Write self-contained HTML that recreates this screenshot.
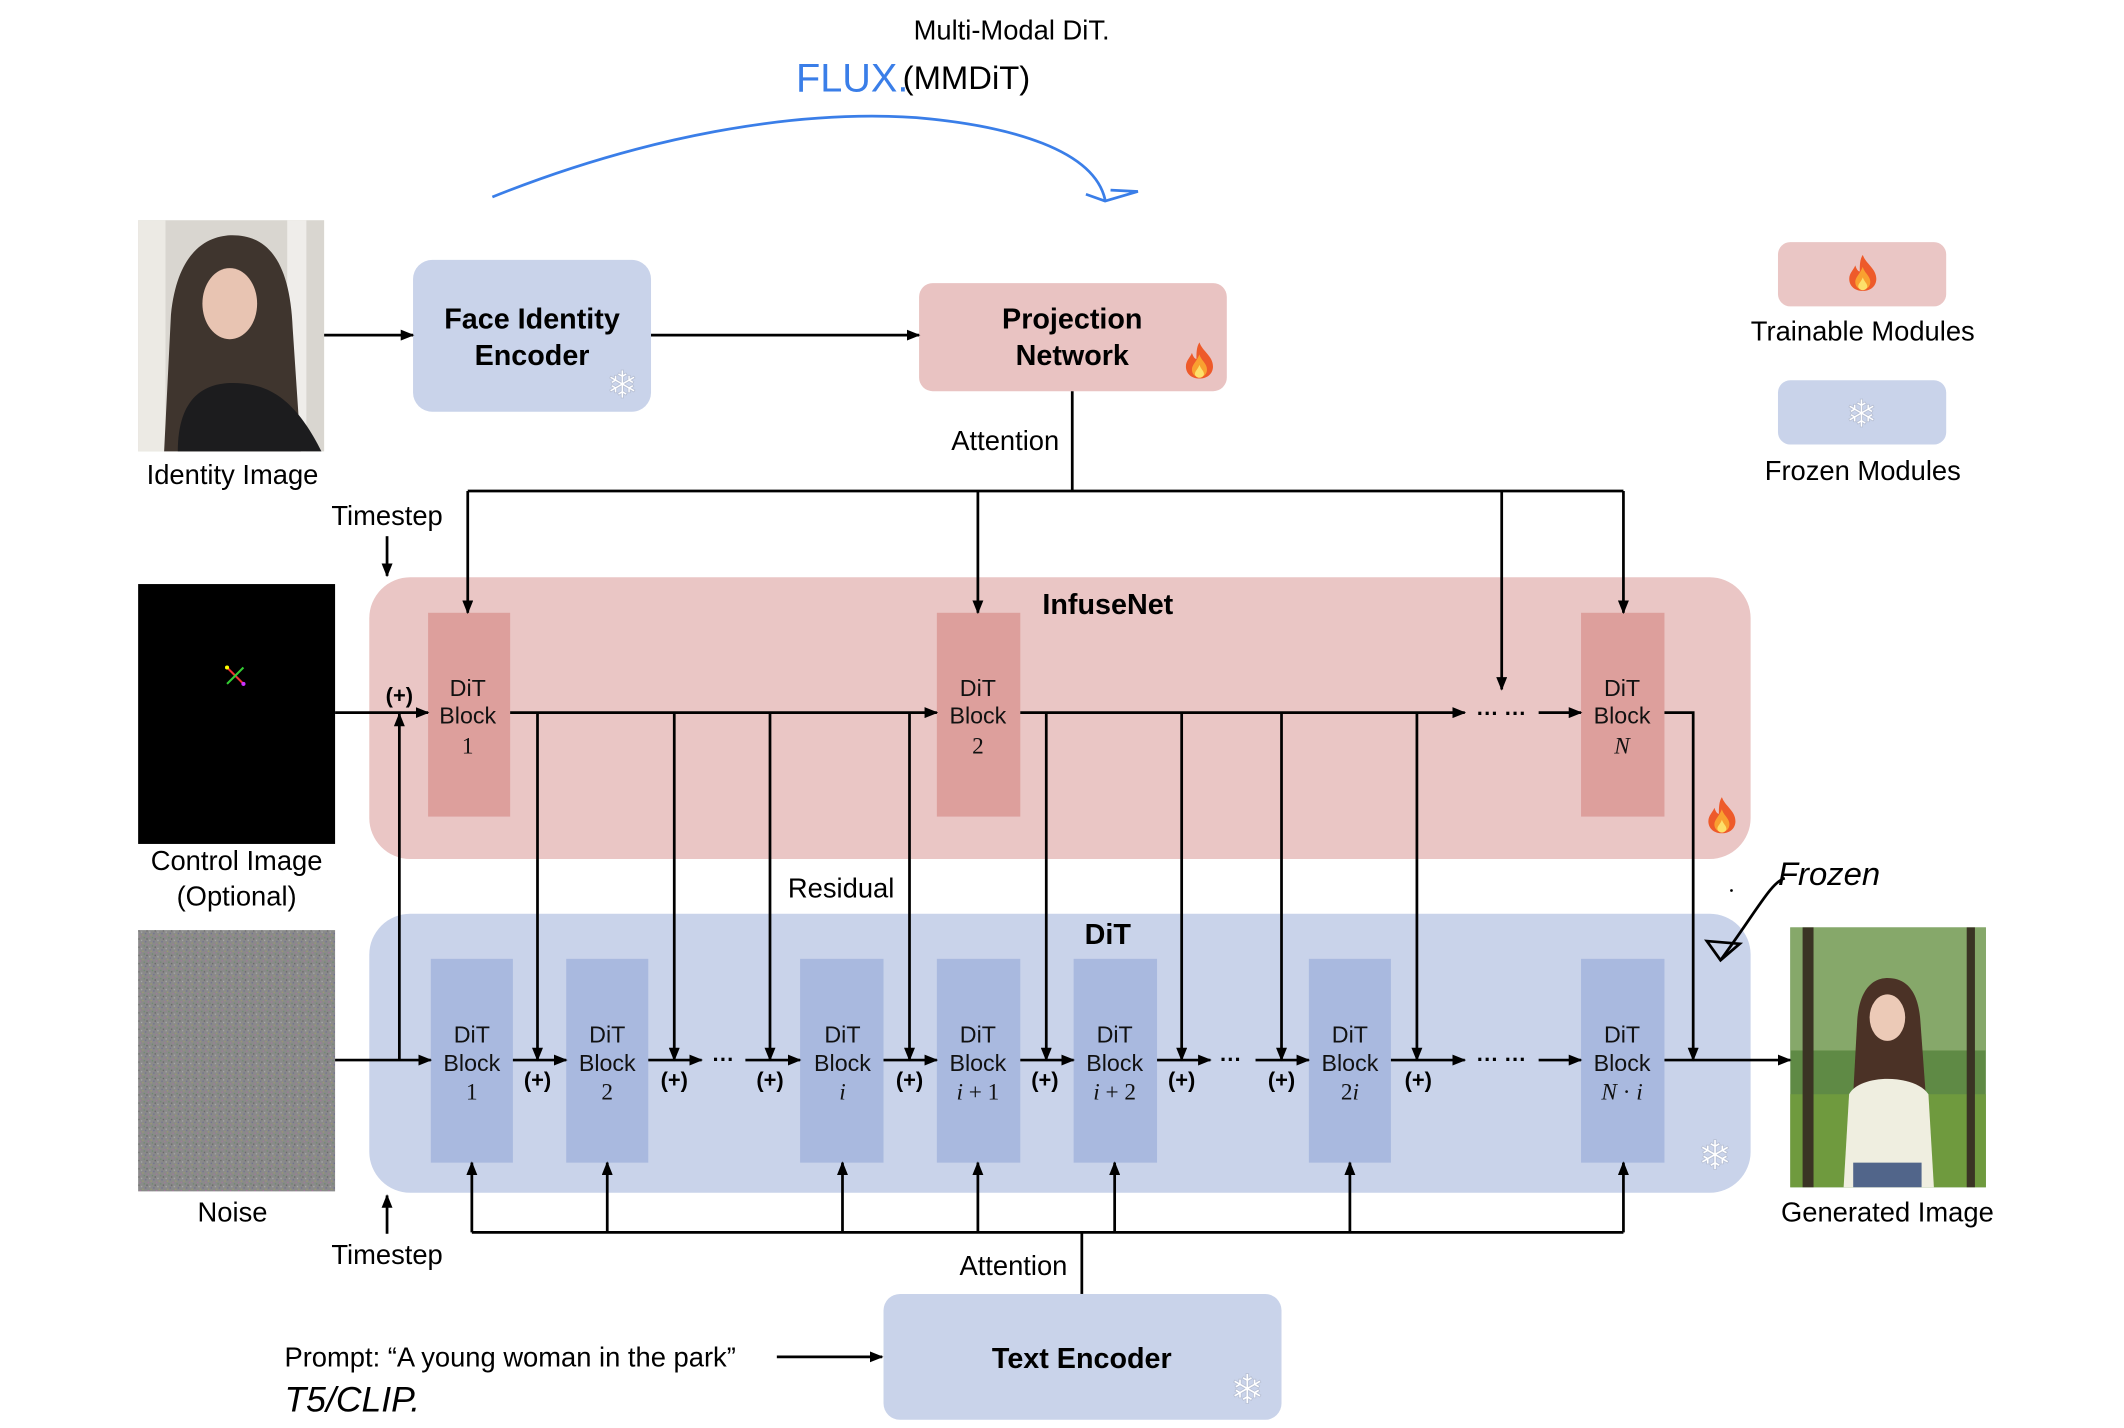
<!DOCTYPE html>
<html><head><meta charset="utf-8">
<style>
html,body{margin:0;padding:0;background:#fff;}
svg{display:block;}
text{font-family:"Liberation Sans",sans-serif;}
.l{font-size:20px;fill:#000;}
.b{font-size:21px;font-weight:bold;fill:#000;}
.blk{font-size:17px;fill:#111;}
.it{font-family:"Liberation Serif",serif;font-style:italic;font-size:17px;}
.num{font-family:"Liberation Serif",serif;font-size:17px;}
.pl{font-size:16px;font-weight:bold;}
.hw{font-family:"Liberation Sans Narrow","Liberation Sans",sans-serif;}
.snow{font-family:"DejaVu Sans",sans-serif;fill:#fff;stroke:#b8c0d4;stroke-width:0.6;}
</style></head>
<body>
<svg width="2124" height="1428" viewBox="0 0 1553 1044" preserveAspectRatio="none" xmlns="http://www.w3.org/2000/svg">
<defs>
<marker id="a" markerWidth="10" markerHeight="8" refX="9" refY="4" orient="auto" markerUnits="userSpaceOnUse">
<path d="M0,0 L10,4 L0,8 z" fill="#000"/></marker>
<symbol id="fire" viewBox="0 0 20 24">
<path d="M10,0 C12,6 19,9 19,16 C19,21 15,24 10,24 C5,24 1,21 1,16 C1,12 4,10 5,7 C6,10 7,11 8,11 C8,7 8,3 10,0z" fill="#ee5a2a"/>
<path d="M10,8 C11,12 15,14 15,18 C15,21 13,23 10,23 C7,23 5,21 5,18 C5,15 8,13 10,8z" fill="#f9a030"/>
<path d="M10,15 C11,18 13,19 13,21 C13,22.5 11.5,23.5 10,23.5 C8.5,23.5 7,22.5 7,21 C7,19 9,18 10,15z" fill="#fde06a"/>
</symbol>
<pattern id="noise" width="6" height="6" patternUnits="userSpaceOnUse">
<rect width="6" height="6" fill="#8a8a8a"/>
<rect x="0" y="0" width="1" height="1" fill="#a07a9a"/><rect x="3" y="1" width="1" height="1" fill="#6d8c6d"/>
<rect x="1" y="3" width="1" height="1" fill="#a9a9a9"/><rect x="4" y="4" width="1" height="1" fill="#707090"/>
<rect x="2" y="5" width="1" height="1" fill="#9a9a70"/><rect x="5" y="2" width="1" height="1" fill="#666"/>
</pattern>
</defs>

<!-- handwritten top -->
<text x="668" y="29" class="hw" font-size="20" fill="#000">Multi-Modal DiT.</text>
<text x="582" y="67" class="hw" font-size="29" fill="#3a7ee8">FLUX.</text>
<text x="660" y="65" class="hw" font-size="24" fill="#000">(MMDiT)</text>
<path d="M360,144 C470,100 580,80 670,86 C740,92 800,110 808,146" fill="none" stroke="#3a7ee8" stroke-width="2"/>
<path d="M794,142 L808,147 L832,140 L812,139" fill="none" stroke="#3a7ee8" stroke-width="2"/>

<!-- identity image -->
<rect x="101" y="161" width="136" height="169" fill="#d9d6d0"/>
<rect x="101" y="161" width="20" height="169" fill="#eceae4"/>
<rect x="210" y="161" width="14" height="169" fill="#efedea"/>
<path d="M120,330 L125,230 C130,180 155,172 170,172 C195,172 212,190 214,240 L220,330z" fill="#3f352e"/>
<ellipse cx="168" cy="222" rx="20" ry="26" fill="#e8c4b2"/>
<path d="M130,330 C130,290 150,280 170,280 C195,280 215,290 235,330z" fill="#1c1c1e"/>
<text x="170" y="354" class="l" text-anchor="middle">Identity Image</text>

<!-- face identity encoder -->
<rect x="302" y="190" width="174" height="111" rx="14" fill="#c9d3ea"/>
<text x="389" y="240" class="b" text-anchor="middle">Face Identity</text>
<text x="389" y="267" class="b" text-anchor="middle">Encoder</text>
<text x="455" y="291" class="snow" font-size="28" text-anchor="middle">❄</text>

<!-- projection -->
<rect x="672" y="207" width="225" height="79" rx="10" fill="#e9c3c2"/>
<text x="784" y="240" class="b" text-anchor="middle">Projection</text>
<text x="784" y="267" class="b" text-anchor="middle">Network</text>
<use href="#fire" x="866" y="250" width="22" height="27"/>

<!-- legend -->
<rect x="1300" y="177" width="123" height="47" rx="9" fill="#eac6c5"/>
<use href="#fire" x="1351" y="186" width="22" height="27"/>
<text x="1362" y="249" class="l" text-anchor="middle">Trainable Modules</text>
<rect x="1300" y="278" width="123" height="47" rx="9" fill="#c9d3ea"/>
<text x="1361" y="312" class="snow" font-size="28" text-anchor="middle">❄</text>
<text x="1362" y="351" class="l" text-anchor="middle">Frozen Modules</text>

<text x="735" y="329" class="l" text-anchor="middle">Attention</text>
<text x="283" y="384" class="l" text-anchor="middle">Timestep</text>

<!-- InfuseNet -->
<rect x="270" y="422" width="1010" height="206" rx="30" fill="#eac6c5"/>
<text x="810" y="449" class="b" text-anchor="middle">InfuseNet</text>
<use href="#fire" x="1248" y="582" width="22" height="28"/>
<g fill="#dd9f9c">
<rect x="313" y="448" width="60" height="149"/>
<rect x="685" y="448" width="61" height="149"/>
<rect x="1156" y="448" width="61" height="149"/>
</g>
<g class="blk" text-anchor="middle">
<text x="342" y="509">DiT</text><text x="342" y="529">Block</text><text x="342" y="551" class="num">1</text>
<text x="715" y="509">DiT</text><text x="715" y="529">Block</text><text x="715" y="551" class="num">2</text>
<text x="1186" y="509">DiT</text><text x="1186" y="529">Block</text><text x="1186" y="551" class="it">N</text>
</g>

<!-- control image -->
<rect x="101" y="427" width="144" height="190" fill="#000"/>
<line x1="166" y1="488" x2="178" y2="500" stroke="#e33" stroke-width="1.5"/>
<line x1="178" y1="488" x2="166" y2="500" stroke="#3c3" stroke-width="1.5"/>
<circle cx="166" cy="488" r="1.5" fill="#ff0"/><circle cx="178" cy="500" r="1.5" fill="#c3f"/>
<text x="173" y="636" class="l" text-anchor="middle">Control Image</text>
<text x="173" y="662" class="l" text-anchor="middle">(Optional)</text>

<text x="615" y="656" class="l" text-anchor="middle">Residual</text>

<!-- DiT region -->
<rect x="270" y="668" width="1010" height="204" rx="30" fill="#c9d3ea"/>
<text x="810" y="690" class="b" text-anchor="middle">DiT</text>
<text x="1254" y="855" class="snow" font-size="30" text-anchor="middle">❄</text>
<g fill="#a9b9df">
<rect x="315" y="701" width="60" height="149"/>
<rect x="414" y="701" width="60" height="149"/>
<rect x="585" y="701" width="61" height="149"/>
<rect x="685" y="701" width="61" height="149"/>
<rect x="785" y="701" width="61" height="149"/>
<rect x="957" y="701" width="60" height="149"/>
<rect x="1156" y="701" width="61" height="149"/>
</g>
<g class="blk" text-anchor="middle">
<text x="345" y="762">DiT</text><text x="345" y="783">Block</text><text x="345" y="804" class="num">1</text>
<text x="444" y="762">DiT</text><text x="444" y="783">Block</text><text x="444" y="804" class="num">2</text>
<text x="616" y="762">DiT</text><text x="616" y="783">Block</text><text x="616" y="804" class="it">i</text>
<text x="715" y="762">DiT</text><text x="715" y="783">Block</text><text x="715" y="804" class="num"><tspan font-style="italic">i</tspan> + 1</text>
<text x="815" y="762">DiT</text><text x="815" y="783">Block</text><text x="815" y="804" class="num"><tspan font-style="italic">i</tspan> + 2</text>
<text x="987" y="762">DiT</text><text x="987" y="783">Block</text><text x="987" y="804" class="num">2<tspan font-style="italic">i</tspan></text>
<text x="1186" y="762">DiT</text><text x="1186" y="783">Block</text><text x="1186" y="804" class="num"><tspan font-style="italic">N</tspan> · <tspan font-style="italic">i</tspan></text>
</g>

<!-- noise -->
<rect x="101" y="680" width="144" height="191" fill="url(#noise)"/>
<text x="170" y="893" class="l" text-anchor="middle">Noise</text>

<!-- generated image -->
<rect x="1309" y="678" width="143" height="190" fill="#5f8a45"/>
<rect x="1309" y="678" width="143" height="90" fill="#86a86a"/>
<rect x="1309" y="800" width="143" height="68" fill="#6f9a3e"/>
<rect x="1318" y="678" width="8" height="190" fill="#3a3424"/>
<rect x="1438" y="678" width="6" height="190" fill="#3a3424"/>
<path d="M1355,800 L1358,745 C1360,720 1372,715 1380,715 C1392,715 1402,722 1404,745 L1408,800z" fill="#4b3226"/>
<ellipse cx="1380" cy="744" rx="13" ry="17" fill="#eccab7"/>
<path d="M1348,868 L1352,800 C1360,785 1400,785 1410,800 L1414,868z" fill="#efeee0"/>
<rect x="1355" y="850" width="50" height="18" fill="#51658a"/>
<text x="1380" y="893" class="l" text-anchor="middle">Generated Image</text>

<!-- frozen annotation -->
<text x="1300" y="647" class="hw" font-size="24" fill="#000" font-style="italic">Frozen</text>
<circle cx="1266" cy="651" r="1" fill="#000"/>
<path d="M1305,642 C1295,645 1285,665 1258,702" fill="none" stroke="#000" stroke-width="2"/>
<path d="M1248,688 L1258,702 L1272,690z" fill="none" stroke="#000" stroke-width="2"/>

<!-- bottom -->
<text x="283" y="924" class="l" text-anchor="middle">Timestep</text>
<text x="741" y="932" class="l" text-anchor="middle">Attention</text>
<rect x="646" y="946" width="291" height="92" rx="12" fill="#c9d3ea"/>
<text x="791" y="1000" class="b" text-anchor="middle">Text Encoder</text>
<text x="912" y="1026" class="snow" font-size="30" text-anchor="middle">❄</text>
<text x="208" y="999" class="l">Prompt: “A young woman in the park”</text>
<text x="208" y="1032" class="hw" font-size="26" fill="#000" font-style="italic">T5/CLIP.</text>

<!-- ===== connectors (on top) ===== -->
<g stroke="#000" stroke-width="2" fill="none">
<line x1="237" y1="245" x2="302" y2="245" marker-end="url(#a)"/>
<line x1="476" y1="245" x2="672" y2="245" marker-end="url(#a)"/>
<line x1="784" y1="286" x2="784" y2="359"/>
<line x1="342" y1="359" x2="1187" y2="359"/>
<line x1="342" y1="359" x2="342" y2="448" marker-end="url(#a)"/>
<line x1="715" y1="359" x2="715" y2="448" marker-end="url(#a)"/>
<line x1="1098" y1="359" x2="1098" y2="504" marker-end="url(#a)"/>
<line x1="1187" y1="359" x2="1187" y2="448" marker-end="url(#a)"/>
<line x1="283" y1="392" x2="283" y2="421" marker-end="url(#a)"/>

<line x1="245" y1="521" x2="313" y2="521" marker-end="url(#a)"/>
<line x1="292" y1="775" x2="292" y2="522" marker-end="url(#a)"/>
<line x1="373" y1="521" x2="685" y2="521" marker-end="url(#a)"/>
<line x1="746" y1="521" x2="1071" y2="521" marker-end="url(#a)"/>
<line x1="1125" y1="521" x2="1156" y2="521" marker-end="url(#a)"/>
<polyline points="1217,521 1238,521 1238,775" marker-end="url(#a)"/>

<line x1="245" y1="775" x2="315" y2="775" marker-end="url(#a)"/>
<line x1="375" y1="775" x2="414" y2="775" marker-end="url(#a)"/>
<line x1="474" y1="775" x2="513" y2="775" marker-end="url(#a)"/>
<line x1="545" y1="775" x2="585" y2="775" marker-end="url(#a)"/>
<line x1="646" y1="775" x2="685" y2="775" marker-end="url(#a)"/>
<line x1="746" y1="775" x2="785" y2="775" marker-end="url(#a)"/>
<line x1="846" y1="775" x2="885" y2="775" marker-end="url(#a)"/>
<line x1="918" y1="775" x2="957" y2="775" marker-end="url(#a)"/>
<line x1="1017" y1="775" x2="1071" y2="775" marker-end="url(#a)"/>
<line x1="1125" y1="775" x2="1156" y2="775" marker-end="url(#a)"/>
<line x1="1217" y1="775" x2="1309" y2="775" marker-end="url(#a)"/>
<line x1="393" y1="521" x2="393" y2="775" marker-end="url(#a)"/>
<line x1="493" y1="521" x2="493" y2="775" marker-end="url(#a)"/>
<line x1="563" y1="521" x2="563" y2="775" marker-end="url(#a)"/>
<line x1="665" y1="521" x2="665" y2="775" marker-end="url(#a)"/>
<line x1="765" y1="521" x2="765" y2="775" marker-end="url(#a)"/>
<line x1="864" y1="521" x2="864" y2="775" marker-end="url(#a)"/>
<line x1="937" y1="521" x2="937" y2="775" marker-end="url(#a)"/>
<line x1="1036" y1="521" x2="1036" y2="775" marker-end="url(#a)"/>

<line x1="283" y1="902" x2="283" y2="874" marker-end="url(#a)"/>
<line x1="345" y1="901" x2="1187" y2="901"/>
<line x1="345" y1="901" x2="345" y2="850" marker-end="url(#a)"/>
<line x1="444" y1="901" x2="444" y2="850" marker-end="url(#a)"/>
<line x1="616" y1="901" x2="616" y2="850" marker-end="url(#a)"/>
<line x1="715" y1="901" x2="715" y2="850" marker-end="url(#a)"/>
<line x1="815" y1="901" x2="815" y2="850" marker-end="url(#a)"/>
<line x1="987" y1="901" x2="987" y2="850" marker-end="url(#a)"/>
<line x1="1187" y1="901" x2="1187" y2="850" marker-end="url(#a)"/>
<line x1="791" y1="901" x2="791" y2="946"/>
<line x1="568" y1="992" x2="645" y2="992" marker-end="url(#a)"/>
</g>
<text x="292" y="514" class="pl" text-anchor="middle">(+)</text>
<text x="1098" y="527" class="pl" text-anchor="middle">··· ···</text>
<g class="pl" text-anchor="middle">
<text x="393" y="795">(+)</text><text x="493" y="795">(+)</text><text x="563" y="795">(+)</text>
<text x="665" y="795">(+)</text><text x="764" y="795">(+)</text><text x="864" y="795">(+)</text>
<text x="937" y="795">(+)</text><text x="1037" y="795">(+)</text>
<text x="529" y="780">···</text><text x="900" y="780">···</text><text x="1098" y="780">··· ···</text>
</g>
</svg>
</body></html>
